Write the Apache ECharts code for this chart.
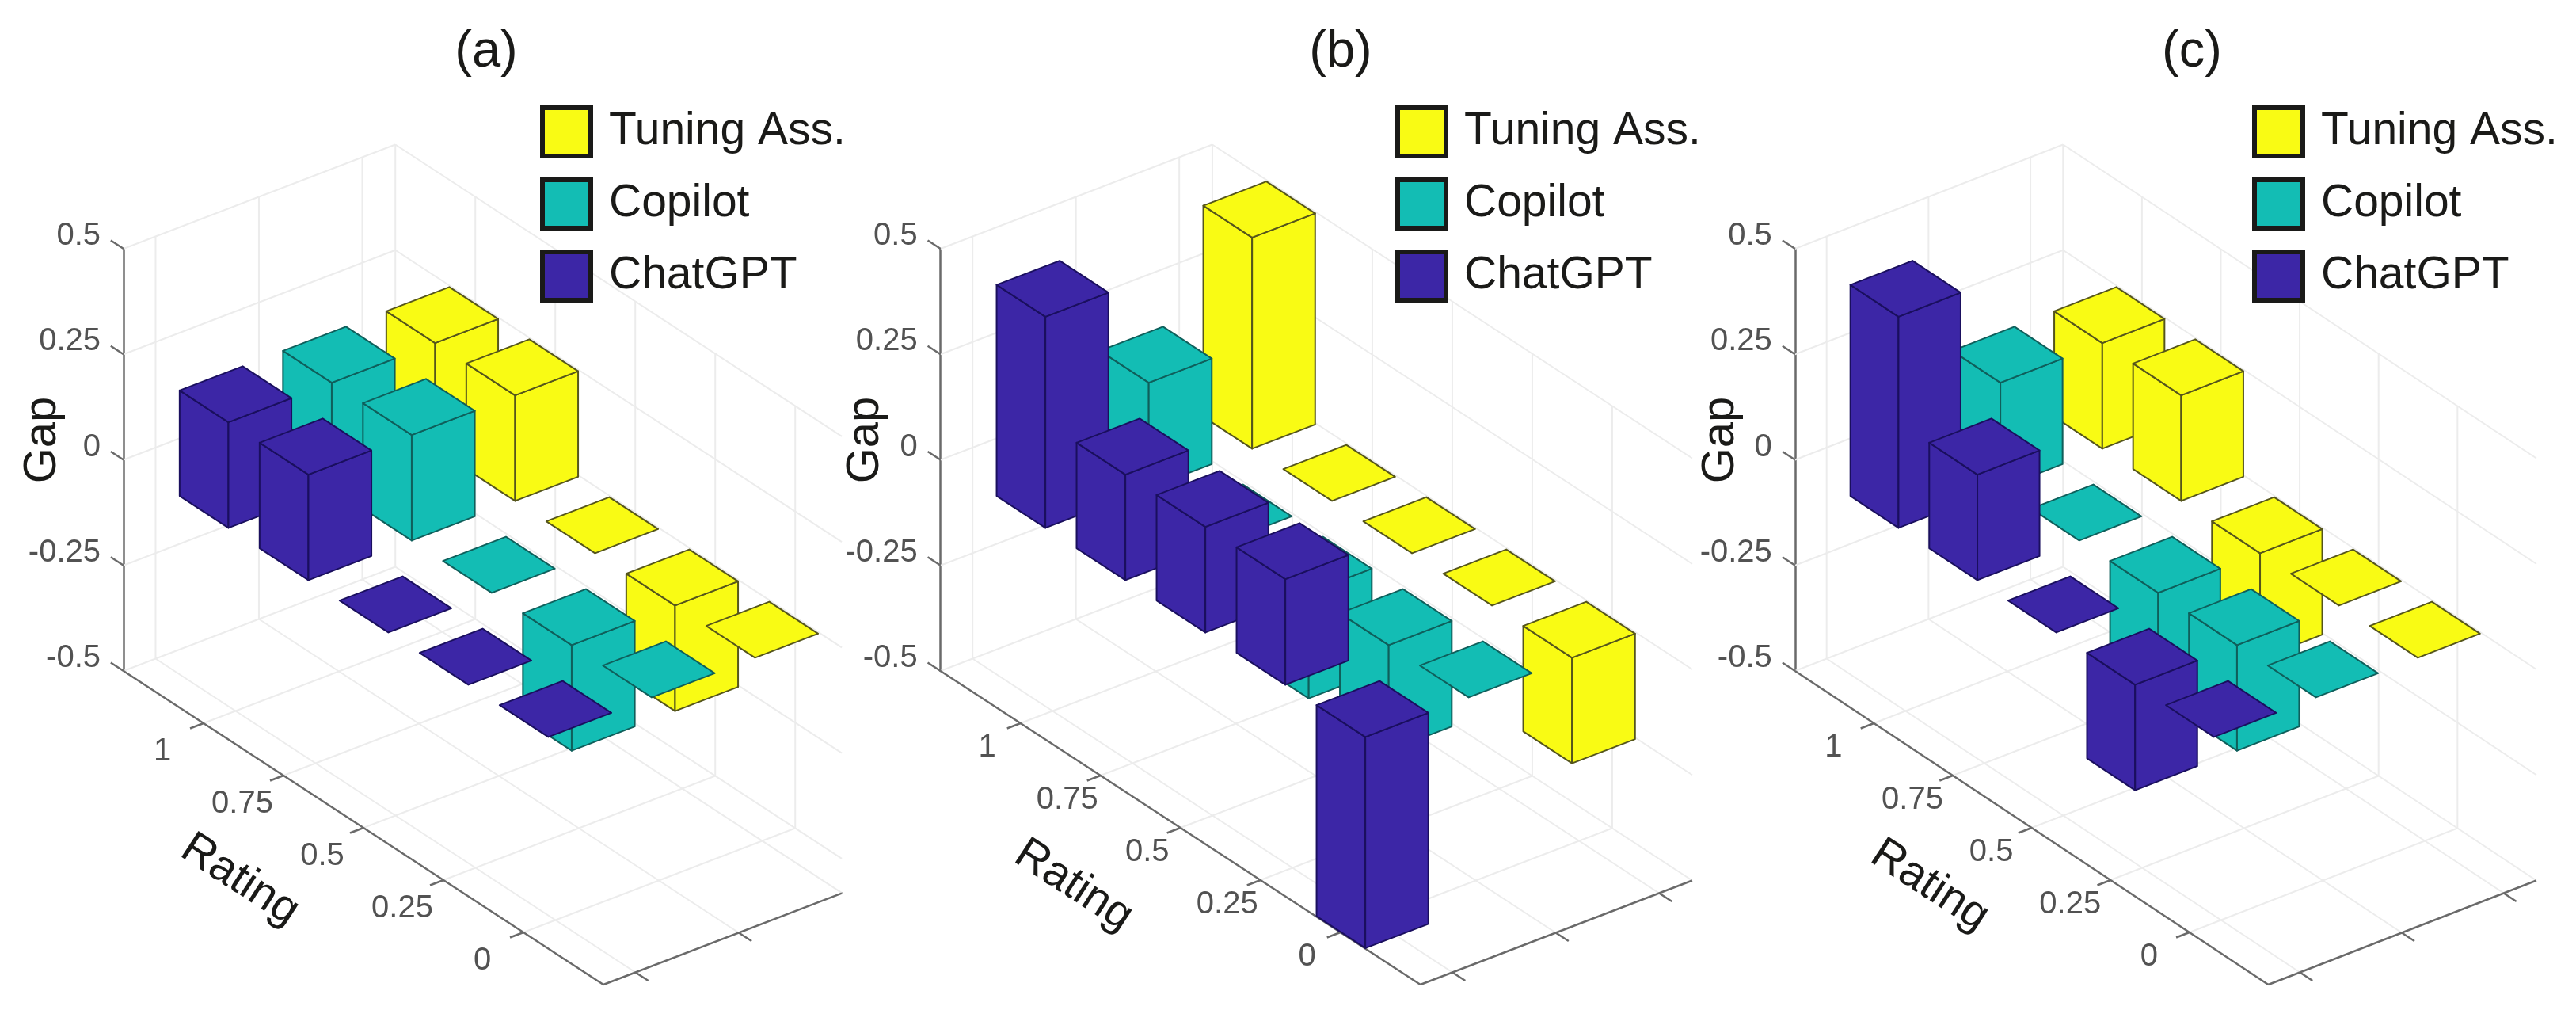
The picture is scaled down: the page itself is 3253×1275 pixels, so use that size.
<!DOCTYPE html>
<html>
<head>
<meta charset="utf-8">
<style>html,body{margin:0;padding:0;background:#fff}#c{width:3253px;height:1275px}</style>
<script src="https://cdn.jsdelivr.net/npm/echarts@6/dist/echarts.min.js"></script>
</head>
<body>
<div id="c"></div>
<script>
// ---- data ----
const ratings = [1, 0.75, 0.5, 0.25, 0];
const gapTicks = [0.5, 0.25, 0, -0.25, -0.5];
const seriesNames = ['Tuning Ass.', 'Copilot', 'ChatGPT'];
const seriesDepth = [3, 2, 1];
const panelTitles = ['(a)', '(b)', '(c)'];

const tuningA  = [0.25, 0.25, 0, -0.25, 0];
const copilotA = [0.25, 0.25, 0, -0.25, 0];
const chatgptA = [0.25, 0.25, 0, 0, 0];

const tuningB  = [0.5, 0, 0, 0, -0.25];
const copilotB = [0.25, 0, -0.25, -0.25, 0];
const chatgptB = [0.5, 0.25, 0.25, 0.25, -0.5];

const tuningC  = [0.25, 0.25, -0.25, 0, 0];
const copilotC = [0.25, 0, -0.25, -0.25, 0];
const chatgptC = [0.5, 0.25, 0, -0.25, 0];

const panelValues = [
  [tuningA, copilotA, chatgptA],
  [tuningB, copilotB, chatgptB],
  [tuningC, copilotC, chatgptC]
];

// ---- layout and style ----
const FONT = '"Liberation Sans", Arial, sans-serif';
const INK = '#1a1a18';
const colors = ['#F9FB14', '#13BDB4', '#3C26A6'];
const edges = ['#55551c', '#0f5f5b', '#1a0f5e'];
const GRID = '#ececec', AXIS = '#6a6a6a', TICKTXT = '#525252';
const layout = [
  {left: 156,    titleX: 614,  legendX: 682,  gapGap: 102, clip: 907, lab: [-52, 36], nam: [147, 264]},
  {left: 1187.7, titleX: 1693, legendX: 1762, gapGap: 95,  clip: 950, lab: [-42, 31], nam: [168, 271]},
  {left: 2266.8, titleX: 2768, legendX: 2844, gapGap: 94,  clip: 950, lab: [-51, 31], nam: [170, 271]}
];
const TOP = 314, H = 533, W = 1000;
const XLO = 0.69, XHI = 3.32, YLO = 0, YHI = 6;
const XU = [130.5, -50], YU = [101, 66];
const HALF = 0.305;

// 3D position -> coordinates on the panel's two axes, then pixels through the axes
function project(api, x, y, z) {
  const sx = (x - XLO) * XU[0] + y * YU[0];
  const sy = (x - XLO) * XU[1] + y * YU[1];
  return api.coord([sx, z - sy * 1 / H]);
}
const ratingPos = r => (1 - r) * 4 + 1;

function line(p, q, color, width, clipX) {
  p = p.slice(); q = q.slice();
  if (q[0] > clipX) { const t = (clipX - p[0]) / (q[0] - p[0]); q = [clipX, p[1] + t * (q[1] - p[1])]; }
  return {type: 'line', shape: {x1: p[0], y1: p[1], x2: q[0], y2: q[1]}, style: {stroke: color, lineWidth: width, fill: null}};
}

function frameItem(panel) {
  const cfg = layout[panel];
  return function (params, api) {
    const P = (x, y, z) => project(api, x, y, z);
    const clipX = api.coord([cfg.clip, 0])[0];
    const kids = [];
    const g = (a, b) => kids.push(line(a, b, GRID, 2, clipX));
    const xTicks = seriesDepth.slice().reverse();
    const zLo = gapTicks[gapTicks.length - 1], zHi = gapTicks[0];
    gapTicks.forEach(z => {
      g(P(XLO, YLO, z), P(XHI, YLO, z));
      g(P(XHI, YLO, z), P(XHI, YHI, z));
    });
    xTicks.concat([XHI]).forEach(x => g(P(x, YLO, zLo), P(x, YLO, zHi)));
    ratings.forEach(r => {
      const y = ratingPos(r);
      g(P(XHI, y, zLo), P(XHI, y, zHi));
      g(P(XLO, y, zLo), P(XHI, y, zLo));
    });
    xTicks.forEach(x => g(P(x, YLO, zLo), P(x, YHI, zLo)));
    const a = (p, q, w) => kids.push(line(p, q, AXIS, w || 2.5, clipX));
    a(P(XLO, YLO, zLo), P(XLO, YHI, zLo));
    a(P(XLO, YHI, zLo), P(XHI, YHI, zLo));
    gapTicks.forEach(z => a(P(XLO, YLO, z), P(XLO, YLO - 0.16, z)));
    xTicks.forEach(x => a(P(x, YHI, zLo), P(x, YHI + 0.16, zLo)));
    ratings.forEach(r => {
      const y = ratingPos(r);
      const t = P(XLO, y, zLo);
      a(t, P(XLO - 0.13, y, zLo));
      kids.push({type: 'text', x: t[0] + cfg.lab[0], y: t[1] + cfg.lab[1],
        style: {text: String(r), font: '40px ' + FONT, fill: TICKTXT, align: 'center', verticalAlign: 'middle'}});
    });
    const o = P(XLO, YLO, zLo);
    kids.push({type: 'text', x: o[0] + cfg.nam[0], y: o[1] + cfg.nam[1], rotation: -33 * Math.PI / 180,
      style: {text: 'Rating', font: '57px ' + FONT, fill: INK, align: 'center', verticalAlign: 'middle'}});
    return {type: 'group', children: kids};
  };
}

function barItem(depth, idx) {
  return function (params, api) {
    const r = api.value(0), v = api.value(1);
    const y = ratingPos(r), x = depth;
    const top = Math.max(v, 0), bot = Math.min(v, 0);
    const fill = colors[idx], edge = edges[idx];
    const poly = pts => ({type: 'polygon', shape: {points: pts},
      style: {fill: fill, stroke: edge, lineWidth: 2, lineJoin: 'round'}});
    const T = (a, b, z) => project(api, x + a * HALF, y + b * HALF, z);
    const kids = [];
    if (top !== bot) {
      kids.push(poly([T(-1, -1, top), T(-1, 1, top), T(-1, 1, bot), T(-1, -1, bot)]));
      kids.push(poly([T(-1, 1, top), T(1, 1, top), T(1, 1, bot), T(-1, 1, bot)]));
    }
    kids.push(poly([T(-1, -1, top), T(1, -1, top), T(1, 1, top), T(-1, 1, top)]));
    return {type: 'group', children: kids};
  };
}

const grid = [], xAxis = [], yAxis = [], title = [], legend = [], series = [];
layout.forEach((cfg, p) => {
  grid.push({left: cfg.left, top: TOP, width: W, height: H});
  xAxis.push({gridIndex: p, type: 'value', min: 0, max: W, show: false});
  yAxis.push({
    gridIndex: p, type: 'value', min: -0.5, max: 0.5, interval: 0.25,
    name: 'Gap', nameLocation: 'middle', nameGap: cfg.gapGap, nameRotate: 90, nameMoveOverlap: false,
    nameTextStyle: {fontFamily: FONT, fontSize: 58, color: INK, padding: [0, 0, 0, 50], lineHeight: 60, verticalAlign: 'middle'},
    axisLine: {show: true, lineStyle: {color: AXIS, width: 2.5}},
    axisTick: {show: false},
    splitLine: {show: false},
    axisLabel: {fontFamily: FONT, fontSize: 40, color: TICKTXT, margin: 29, verticalAlign: 'bottom', lineHeight: 32, showMinLabel: true, showMaxLabel: true}
  });
  title.push({text: panelTitles[p], left: cfg.titleX, top: 34, padding: 0, textAlign: 'center',
    textStyle: {fontFamily: FONT, fontSize: 65, fontWeight: 'normal', color: INK}});
  legend.push({
    left: cfg.legendX, top: 133, padding: 0, orient: 'vertical', data: seriesNames, selectedMode: false,
    icon: 'rect', itemWidth: 61, itemHeight: 61, itemGap: 24,
    itemStyle: {borderColor: INK, borderWidth: 6},
    textStyle: {fontFamily: FONT, fontSize: 57, color: INK, padding: [0, 0, 0, 18]}
  });
  series.push({type: 'custom', name: 'frame' + p, coordinateSystem: 'cartesian2d', xAxisIndex: p, yAxisIndex: p,
    data: [[0, 0]], renderItem: frameItem(p), silent: true, z: 1});
  seriesNames.forEach((nm, s) => {
    series.push({
      type: 'custom', name: nm, coordinateSystem: 'cartesian2d', xAxisIndex: p, yAxisIndex: p,
      itemStyle: {color: colors[s]},
      data: ratings.map((r, i) => [r, panelValues[p][s][i]]),
      renderItem: barItem(seriesDepth[s], s), silent: true, z: 2 + s
    });
  });
});

const chart = echarts.init(document.getElementById('c'), null, {renderer: 'canvas', width: 3253, height: 1275});
chart.setOption({animation: false, backgroundColor: '#fff', tooltip: {show: false}, grid, xAxis, yAxis, title, legend, series});
</script>
</body>
</html>
